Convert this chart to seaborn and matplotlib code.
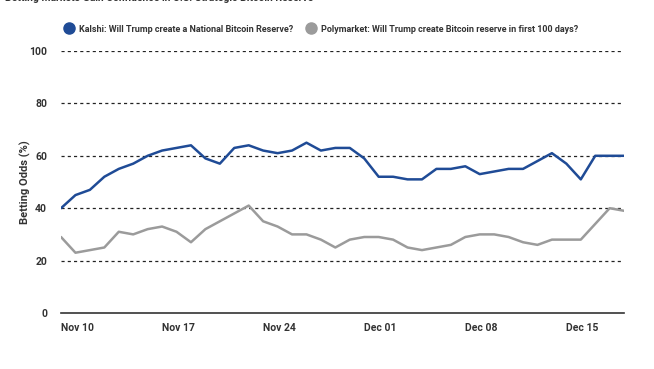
import pandas as pd
import matplotlib.pyplot as plt
import seaborn as sns
from matplotlib.lines import Line2D

# Данные: дневные значения с 10 ноября по 19 декабря 2024
dates = pd.date_range('2024-11-10', '2024-12-19', freq='D')
kalshi = [40, 45, 47, 52, 55, 57, 60, 62, 63, 64,
          59, 57, 63, 64, 62, 61, 62, 65, 62, 63,
          63, 59, 52, 52, 51, 51, 55, 55, 56, 53,
          54, 55, 55, 58, 61, 57, 51, 60, 60, 60]
polymarket = [29, 23, 24, 25, 31, 30, 32, 33, 31, 27,
              32, 35, 38, 41, 35, 33, 30, 30, 28, 25,
              28, 29, 29, 28, 25, 24, 25, 26, 29, 30,
              30, 29, 27, 26, 28, 28, 28, 34, 40, 39]
tick_dates = ['2024-11-10', '2024-11-17', '2024-11-24', '2024-12-01', '2024-12-08', '2024-12-15']
tick_labels = ['Nov 10', 'Nov 17', 'Nov 24', 'Dec 01', 'Dec 08', 'Dec 15']
series_names = ['Kalshi: Will Trump create a National Bitcoin Reserve?',
                'Polymarket: Will Trump create Bitcoin reserve in first 100 days?']
colors = ['#1f4b96', '#9b9b9b']

df = pd.DataFrame({
    'date': list(dates) * 2,
    'odds': kalshi + polymarket,
    'market': [series_names[0]] * len(dates) + [series_names[1]] * len(dates),
})

sns.set_style('white')
plt.rcParams['font.family'] = ['Roboto', 'DejaVu Sans']

fig = plt.figure(figsize=(6.54, 3.69), dpi=100)
ax = fig.add_axes([0.0933, 0.1518, 0.861, 0.71])

sns.lineplot(data=df, x='date', y='odds', hue='market', palette=colors,
             linewidth=1.8, legend=False, ax=ax)

ax.set_xlim(dates[0], dates[-1])
ax.set_ylim(0, 100)
ax.set_yticks([0, 20, 40, 60, 80, 100])
ax.set_yticklabels(['0', '20', '40', '60', '80', '100'], fontsize=7.5, fontweight='bold', color='#333333')
ax.set_xticks(pd.to_datetime(tick_dates))
ax.set_xticklabels(tick_labels, fontsize=7.5, fontweight='bold', color='#333333', ha='left')
ax.tick_params(axis='both', length=0)
ax.tick_params(axis='y', pad=10)
ax.tick_params(axis='x', pad=7)

for y in [20, 40, 60, 80, 100]:
    ax.axhline(y, color='#222222', linewidth=0.9, linestyle=(0, (2.5, 2.5)), zorder=0)

for s in ['top', 'right', 'left']:
    ax.spines[s].set_visible(False)
ax.spines['bottom'].set_color('#333333')
ax.spines['bottom'].set_linewidth(1.2)

ax.set_xlabel('')
ax.set_ylabel('Betting Odds (%)', fontsize=8, fontweight='bold', color='#333333', labelpad=-1)

handles = [Line2D([], [], marker='o', linestyle='none', markersize=8, color=c) for c in colors]
fig.legend(handles, series_names, loc='center', bbox_to_anchor=(0.488, 0.921), ncol=2,
           frameon=False, handletextpad=0.1, columnspacing=1.0,
           prop={'size': 6.5, 'weight': 'bold'}, labelcolor='#333333')

# заголовок, почти обрезанный сверху
fig.text(0.008, 0.997, 'Betting Markets Gain Confidence in U.S. Strategic Bitcoin Reserve',
         fontsize=7.5, fontweight='bold', color='#333333', va='baseline')

plt.savefig('out.png', dpi=100)
plt.close()
